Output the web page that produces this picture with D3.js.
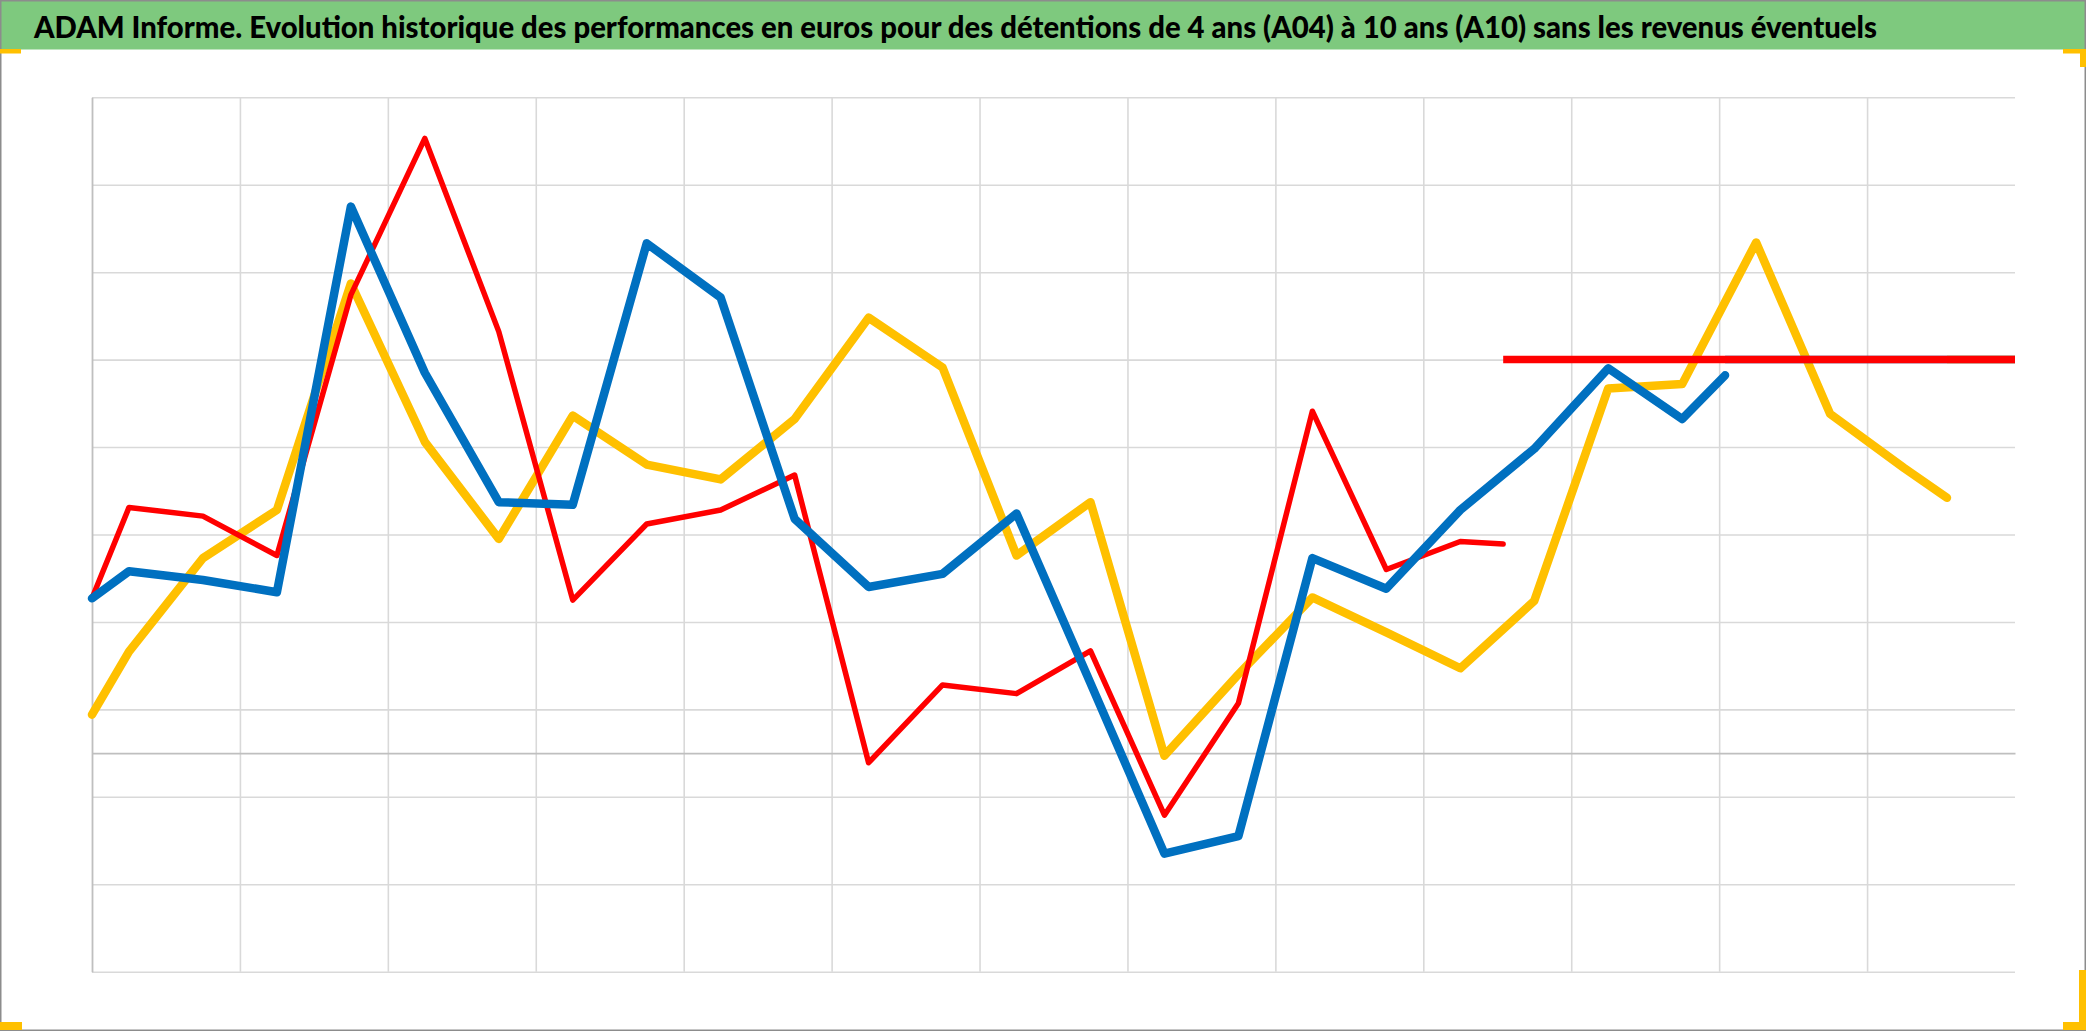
<!DOCTYPE html>
<html>
<head>
<meta charset="utf-8">
<script src="https://cdn.jsdelivr.net/npm/d3@7"></script>
<style>
  html, body { margin: 0; padding: 0; background: #ffffff; }
  svg { display: block; }
</style>
</head>
<body>
<svg id="chart" width="2086" height="1031"></svg>
<script>
// ---- data (x = years from start of history, y = performance) ----
const titleText = "ADAM Informe. Evolution historique des performances en euros pour des détentions de 4 ans (A04) à 10 ans (A10) sans les revenus éventuels";

const xA10 = [0, 0.5, 1.5, 2.5, 3.5, 4.5, 5.5, 6.5, 7.5, 8.5, 9.5, 10.5, 11.5, 12.5, 13.5, 14.5, 15.5, 16.5, 17.5, 18.5, 19.08];
const yA10 = [17.7, 28.1, 27.1, 22.6, 52.4, 70.3, 48.2, 17.5, 26.2, 27.8, 31.8, -1.1, 7.8, 6.8, 11.7, -7.1, 5.7, 39.1, 21.0, 24.2, 23.9];

const xA07 = [0, 0.5, 1.5, 2.5, 3.5, 4.5, 5.5, 6.5, 7.5, 8.5, 9.5, 10.5, 11.5, 12.5, 13.5, 14.5, 15.5, 16.5, 17.5, 18.5, 19.5, 20.5, 21.5, 22.08];
const yA07 = [17.7, 20.8, 19.8, 18.4, 62.5, 43.5, 28.7, 28.4, 58.3, 52.1, 26.8, 19.0, 20.5, 27.4, 8.0, -11.5, -9.5, 22.3, 18.8, 27.8, 34.8, 44.0, 38.2, 43.2];

const xA04 = [0, 0.5, 1.5, 2.5, 3.5, 4.5, 5.5, 6.5, 7.5, 8.5, 9.5, 10.5, 11.5, 12.5, 13.5, 14.5, 15.5, 16.5, 17.5, 18.5, 19.5, 20.5, 21.5, 22.5, 23.5, 24.5, 25.08];
const yA04 = [4.4, 11.6, 22.3, 27.8, 53.7, 35.6, 24.5, 38.6, 33.0, 31.3, 38.2, 49.8, 44.1, 22.6, 28.7, -0.3, 9.0, 17.8, 13.8, 9.7, 17.4, 41.7, 42.2, 58.4, 38.8, 32.6, 29.2];

// current level lines (from the last point of each series to the end of the axis)
const levelStarts = [25.08, 22.08, 19.08];   // A04, A07, A10
const levelEnd = 26;
const levelValue = 45.0;

const xTicks = [2, 4, 6, 8, 10, 12, 14, 16, 18, 20, 22, 24];
const yTicks = [-25, -15, -5, 5, 15, 25, 35, 45, 55, 65, 75];

// ---- layout ----
const W = 2086, H = 1031;
const plot = { left: 92, right: 2015, top: 97.3, bottom: 971.7 };
const colors = { A04: "#FFC000", A07: "#0070C0", A10: "#FF0000" };

const svg = d3.select("#chart");
svg.append("rect").attr("x", 0).attr("y", 0).attr("width", W).attr("height", H).attr("fill", "#ffffff");

const x = d3.scaleLinear().domain([0, 26]).range([plot.left, plot.right]);
const y = d3.scaleLinear().domain([-25, 75]).range([plot.bottom, plot.top]);

// gridlines
const gH = svg.append("g").attr("class", "grid-h")
  .attr("transform", `translate(${plot.left},0)`)
  .call(d3.axisLeft(y).tickValues(yTicks).tickSize(-(plot.right - plot.left)).tickFormat(""));
gH.select(".domain").remove();
gH.selectAll(".tick line").attr("stroke", "#D9D9D9").attr("stroke-width", 1.6);

const gV = svg.append("g").attr("class", "grid-v")
  .attr("transform", `translate(0,${plot.bottom})`)
  .call(d3.axisBottom(x).tickValues(xTicks).tickSize(-(plot.bottom - plot.top)).tickFormat(""));
gV.select(".domain").remove();
gV.selectAll(".tick line").attr("stroke", "#D9D9D9").attr("stroke-width", 1.6);

// axes (zero line and left axis)
const gX = svg.append("g").attr("class", "axis-x")
  .attr("transform", `translate(0,${y(0)})`)
  .call(d3.axisBottom(x).tickValues([]).tickSizeOuter(0));
gX.select(".domain").attr("stroke", "#BFBFBF").attr("stroke-width", 1.8);

const gY = svg.append("g").attr("class", "axis-y")
  .attr("transform", `translate(${plot.left},0)`)
  .call(d3.axisLeft(y).tickValues([]).tickSizeOuter(0));
gY.select(".domain").attr("stroke", "#BFBFBF").attr("stroke-width", 1.8);

// series
const line = d3.line().x(d => x(d[0])).y(d => y(d[1]));
const series = [
  { key: "A04", xs: xA04, ys: yA04, width: 8.5 },
  { key: "A10", xs: xA10, ys: yA10, width: 5.5 },
  { key: "A07", xs: xA07, ys: yA07, width: 8.5 }
];
const gS = svg.append("g").attr("class", "series");
series.forEach(s => {
  const pts = s.xs.map((v, i) => [v, s.ys[i]]);
  gS.append("path")
    .datum(pts)
    .attr("d", line)
    .attr("fill", "none")
    .attr("stroke", colors[s.key])
    .attr("stroke-width", s.width)
    .attr("stroke-linejoin", "round")
    .attr("stroke-linecap", "round");
});

// current-level lines
const levelKeys = ["A04", "A07", "A10"];
levelKeys.forEach((k, i) => {
  gS.append("path")
    .datum([[levelStarts[i], levelValue], [levelEnd, levelValue]])
    .attr("d", line)
    .attr("fill", "none")
    .attr("stroke", colors[k])
    .attr("stroke-width", 7.5);
});

// title bar
svg.append("rect").attr("x", 0).attr("y", 0).attr("width", W).attr("height", 49.5).attr("fill", "#7EC97E");
svg.append("text")
  .attr("x", 34).attr("y", 37.5)
  .attr("font-family", "Lato, 'Open Sans', sans-serif")
  .attr("font-weight", 900)
  .attr("font-size", 29.5)
  .attr("fill", "#000000")
  .attr("textLength", 1843)
  .attr("lengthAdjust", "spacingAndGlyphs")
  .text(titleText);

// outer border
svg.append("rect").attr("x", 0.75).attr("y", 0.75).attr("width", W - 1.5).attr("height", H - 1.5)
  .attr("fill", "none").attr("stroke", "#8C8C8C").attr("stroke-width", 1.5);

// yellow selection corners
const yel = "#FFC000";
svg.append("rect").attr("x", 0).attr("y", 49).attr("width", 21).attr("height", 4.5).attr("fill", yel);
svg.append("rect").attr("x", 2063).attr("y", 49).attr("width", 23).attr("height", 4.5).attr("fill", yel);
svg.append("rect").attr("x", 2080).attr("y", 49).attr("width", 6).attr("height", 18).attr("fill", yel);
svg.append("rect").attr("x", 0).attr("y", 1022).attr("width", 22).attr("height", 8).attr("fill", yel);
svg.append("rect").attr("x", 2063).attr("y", 1022).attr("width", 23).attr("height", 8).attr("fill", yel);
svg.append("rect").attr("x", 2079).attr("y", 970).attr("width", 7).attr("height", 60).attr("fill", yel);
</script>
</body>
</html>
